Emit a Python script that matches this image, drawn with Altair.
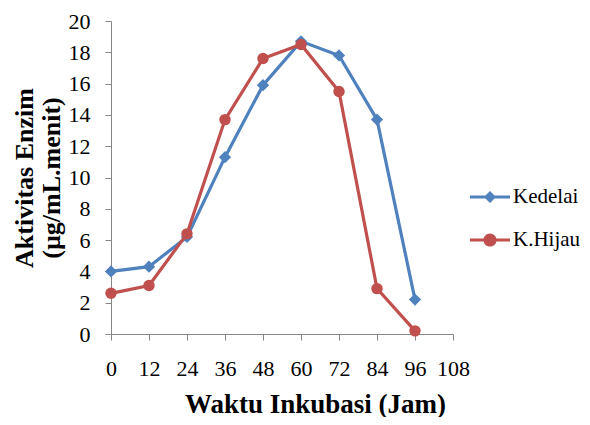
import altair as alt
import pandas as pd

jam = [0, 12, 24, 36, 48, 60, 72, 84, 96]
kedelai = [4.0, 4.3, 6.2, 11.3, 15.9, 18.7, 17.8, 13.7, 2.2]
hijau = [2.6, 3.1, 6.4, 13.7, 17.6, 18.5, 15.5, 2.9, 0.2]
series = ["Kedelai", "K.Hijau"]
colors = ["#4F81BD", "#C0504D"]
x_ticks = [0, 12, 24, 36, 48, 60, 72, 84, 96, 108]
y_ticks = [0, 2, 4, 6, 8, 10, 12, 14, 16, 18, 20]

rows = []
for j, k in zip(jam, kedelai):
    rows.append({"jam": j, "nilai": k, "seri": "Kedelai"})
for j, h in zip(jam, hijau):
    rows.append({"jam": j, "nilai": h, "seri": "K.Hijau"})
df = pd.DataFrame(rows)

FONT = "Liberation Serif"

x = alt.X(
    "jam:Q",
    scale=alt.Scale(domain=[0, 108], nice=False),
    axis=alt.Axis(
        values=x_ticks, title="Waktu Inkubasi (Jam)", labelPadding=18,
        labelOverlap=False, labelFlush=False,
        titleX=204, titleY=70, titleBaseline="middle", titleAlign="center",
        titleFontSize=27,
    ),
)
y = alt.Y(
    "nilai:Q",
    scale=alt.Scale(domain=[0, 20], nice=False),
    axis=alt.Axis(
        values=y_ticks, title=["Aktivitas Enzim", "(µg/mL.menit)"], labelPadding=15,
        labelOverlap=False, labelFlush=False,
        titleX=-87, titleY=156.5, titleBaseline="middle", titleAlign="center",
        titleAngle=270, titleFontSize=26, titleLineHeight=27,
    ),
)
color_scale = alt.Scale(domain=series, range=colors)

base = alt.Chart(df)
layers = []
for s, c, shp, sz in [("Kedelai", colors[0], "diamond", 150), ("K.Hijau", colors[1], "circle", 130)]:
    sub = base.transform_filter(alt.datum.seri == s)
    layers.append(sub.mark_line(strokeWidth=3.2, color=c).encode(x=x, y=y))
    layers.append(
        sub.mark_point(filled=True, shape=shp, size=sz, opacity=1, color=c).encode(x=x, y=y)
    )

diamond_path = "M-1,-0.08L1,-0.08L1,0.08L-1,0.08Z M0,-0.3L0.3,0L0,0.3L-0.3,0Z"
circle_path = ("M-1,-0.08L1,-0.08L1,0.08L-1,0.08Z "
               "M-0.33,0A0.33,0.33,0,1,1,0.33,0A0.33,0.33,0,1,1,-0.33,0Z")

leg = dict(
    title=None, orient="none", legendX=359, legendY=156, padding=0,
    symbolSize=1600, symbolOpacity=1, symbolStrokeWidth=0,
    labelFont=FONT, labelFontSize=21, labelColor="black", labelOffset=3,
    rowPadding=13, labelLimit=200,
)
legend_layer = base.mark_point(filled=True, opacity=0).encode(
    x=x, y=y,
    color=alt.Color("seri:N", scale=color_scale, legend=alt.Legend(**leg)),
    shape=alt.Shape("seri:N", scale=alt.Scale(domain=series, range=[diamond_path, circle_path]),
                    legend=alt.Legend(**leg)),
)

chart = alt.layer(*layers, legend_layer).properties(
    width=342, height=313,
    autosize=alt.AutoSizeParams(type="none"),
    padding={"left": 103, "top": 13, "right": 129, "bottom": 83},
).configure_view(stroke=None).configure_axis(
    grid=False,
    domainColor="#868686", tickColor="#868686", tickSize=6,
    labelFont=FONT, labelFontSize=22, labelColor="black",
    titleFont=FONT, titleFontWeight="bold", titleColor="black",
).configure_legend(
    labelFont=FONT, labelFontSize=21, labelColor="black",
)

chart.save("out.html", embed_options={"renderer": "svg", "actions": False})
